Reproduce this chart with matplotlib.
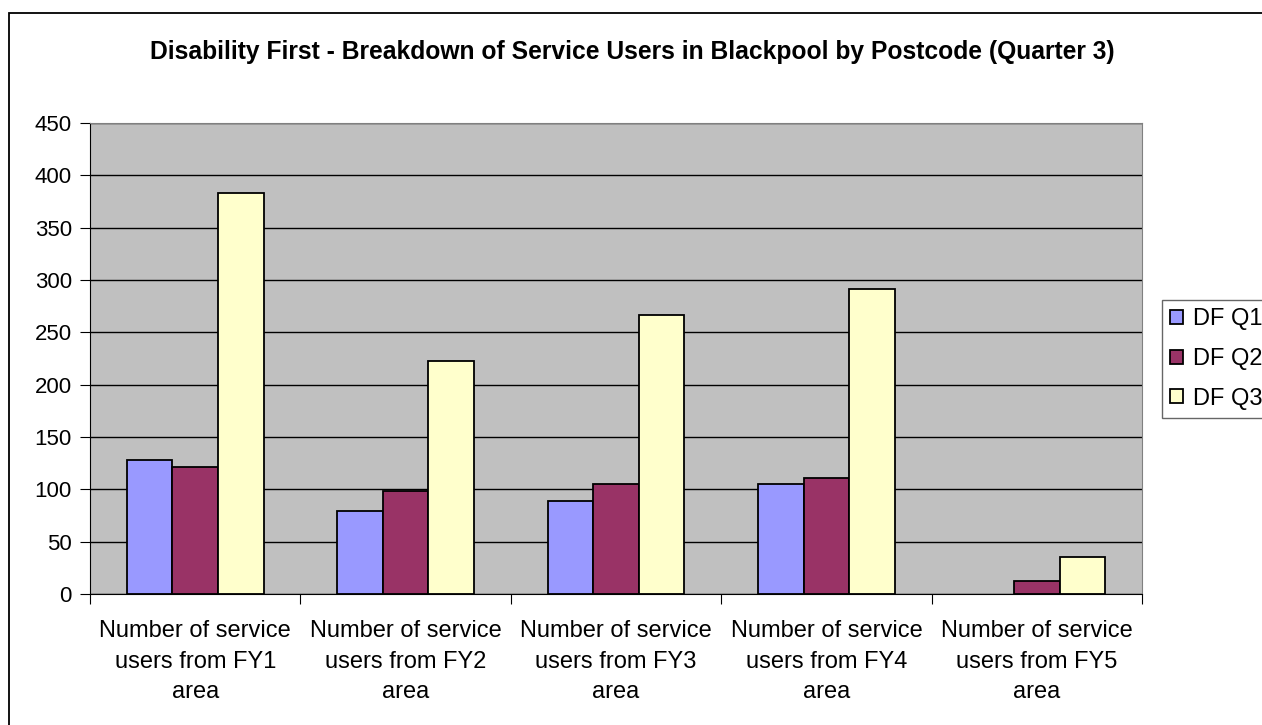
#!/usr/bin/env python3
# -*- coding: utf-8 -*-

import matplotlib
matplotlib.use("Agg")
import matplotlib.pyplot as plt
import numpy as np
from matplotlib.patches import Rectangle

categories = ["Number of service\nusers from FY1\narea",
              "Number of service\nusers from FY2\narea",
              "Number of service\nusers from FY3\narea",
              "Number of service\nusers from FY4\narea",
              "Number of service\nusers from FY5\narea"]
series_names = ["DF Q1", "DF Q2", "DF Q3"]
df_q1 = [128, 79, 89, 105, 0]
df_q2 = [121, 98, 105, 111, 12]
df_q3 = [383, 223, 267, 291, 35]
colors = ["#9999FF", "#993366", "#FFFFCC"]
y_ticks = list(range(0, 451, 50))

W, H = 1262, 725

plt.rcParams['font.family'] = ['Liberation Sans', 'DejaVu Sans']

fig = plt.figure(figsize=(W / 100, H / 100), dpi=100)
ax = fig.add_axes([90 / W, 1 - 594 / H, 1052 / W, 471 / H])
ax.set_facecolor("#C0C0C0")

x = np.arange(len(categories))
width = 0.217
for i, (vals, name) in enumerate(zip([df_q1, df_q2, df_q3], series_names)):
    # no outline for empty bars
    lws = [1.3 if v > 0 else 0 for v in vals]
    ax.bar(x + (i - 1) * width, vals, width, color=colors[i], edgecolor="black",
           linewidth=lws, label=name, zorder=3)

ax.set_xlim(-0.5, len(categories) - 0.5)
ax.set_ylim(0, 450)
ax.set_yticks(y_ticks)
ax.tick_params(axis="y", labelsize=16, length=7, pad=6, direction="out", color="black")
ax.yaxis.grid(True, color="black", linewidth=1, zorder=1)
ax.set_axisbelow(True)

# ticks between categories, labels at centers
ax.set_xticks(np.arange(len(categories) + 1) - 0.5)
ax.set_xticklabels([])
ax.set_xticks(x, minor=True)
ax.set_xticklabels(categories, minor=True, fontsize=17, linespacing=1.5)
ax.tick_params(axis="x", which="major", length=7, color="black")
ax.tick_params(axis="x", which="minor", length=0, pad=19)

for side in ["top", "right"]:
    ax.spines[side].set_color("#808080")
for side in ["left", "bottom"]:
    ax.spines[side].set_color("black")

fig.text(632 / W, 1 - 52 / H, "Disability First - Breakdown of Service Users in Blackpool by Postcode (Quarter 3)",
         ha="center", va="center", fontsize=17.7, fontweight="bold")

leg = fig.legend(loc="upper left", bbox_to_anchor=(1162 / W, 1 - 300 / H), fontsize=17,
                 frameon=True, fancybox=False, handlelength=0.55, handleheight=0.55,
                 handletextpad=0.4, borderpad=0.35, borderaxespad=0, labelspacing=0.75)
leg.get_frame().set_edgecolor("#404040")
leg.get_frame().set_linewidth(1)

# chart border: only left and top edges fall inside the picture
fig.patches.append(Rectangle((9 / W, -0.1), 1.2, 1.1 - 13 / H, transform=fig.transFigure,
                             fill=False, edgecolor="black", linewidth=1.3))

plt.savefig("out.png", dpi=100)
